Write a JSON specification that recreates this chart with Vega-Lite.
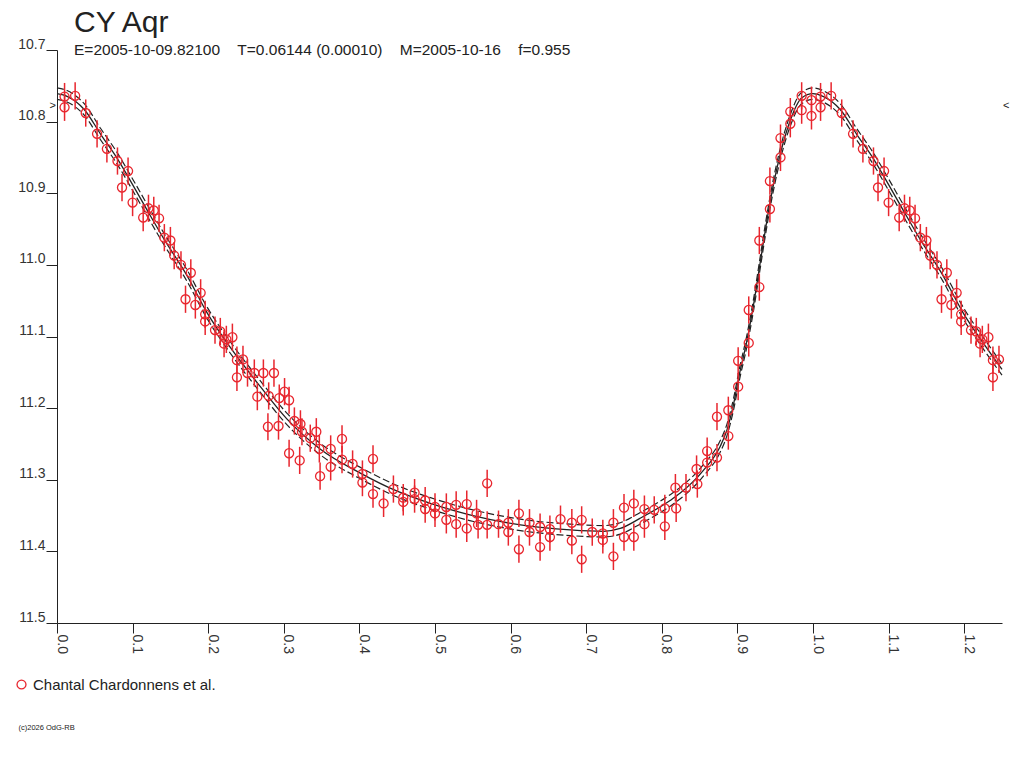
{
  "$schema": "https://vega.github.io/schema/vega-lite/v6.json",
  "width": 945,
  "height": 573,
  "autosize": "none",
  "padding": {"left": 57, "top": 50, "right": 22, "bottom": 145},
  "background": "white",
  "config": {"view": {"stroke": null}, "font": "Liberation Sans"},
  "title": {
    "text": "CY Aqr",
    "subtitle": "E=2005-10-09.82100\u00a0\u00a0\u00a0\u00a0T=0.06144 (0.00010)\u00a0\u00a0\u00a0\u00a0M=2005-10-16\u00a0\u00a0\u00a0\u00a0f=0.955",
    "anchor": "start",
    "frame": "group",
    "orient": "top",
    "dx": 17,
    "offset": -21,
    "font": "Liberation Sans",
    "fontSize": 30,
    "fontWeight": "normal",
    "color": "#222222",
    "subtitleFont": "Liberation Sans",
    "subtitleFontSize": 15.5,
    "subtitleColor": "#222222",
    "subtitlePadding": 5
  },
  "datasets": {
    "curve": [
      {"p":0.000,"c":10.761,"u":10.753,"l":10.769},
      {"p":0.014,"c":10.765,"u":10.757,"l":10.773},
      {"p":0.036,"c":10.783,"u":10.775,"l":10.791},
      {"p":0.058,"c":10.818,"u":10.810,"l":10.826},
      {"p":0.080,"c":10.852,"u":10.844,"l":10.860},
      {"p":0.100,"c":10.888,"u":10.880,"l":10.896},
      {"p":0.120,"c":10.925,"u":10.917,"l":10.933},
      {"p":0.141,"c":10.963,"u":10.955,"l":10.971},
      {"p":0.172,"c":11.015,"u":11.007,"l":11.023},
      {"p":0.198,"c":11.066,"u":11.058,"l":11.074},
      {"p":0.229,"c":11.115,"u":11.107,"l":11.123},
      {"p":0.269,"c":11.170,"u":11.162,"l":11.178},
      {"p":0.304,"c":11.215,"u":11.207,"l":11.223},
      {"p":0.348,"c":11.257,"u":11.249,"l":11.265},
      {"p":0.400,"c":11.290,"u":11.282,"l":11.298},
      {"p":0.450,"c":11.316,"u":11.308,"l":11.324},
      {"p":0.494,"c":11.333,"u":11.325,"l":11.341},
      {"p":0.546,"c":11.349,"u":11.341,"l":11.357},
      {"p":0.613,"c":11.363,"u":11.355,"l":11.371},
      {"p":0.679,"c":11.370,"u":11.362,"l":11.378},
      {"p":0.723,"c":11.372,"u":11.364,"l":11.380},
      {"p":0.745,"c":11.368,"u":11.360,"l":11.376},
      {"p":0.771,"c":11.354,"u":11.346,"l":11.362},
      {"p":0.811,"c":11.329,"u":11.321,"l":11.337},
      {"p":0.824,"c":11.319,"u":11.311,"l":11.327},
      {"p":0.855,"c":11.287,"u":11.279,"l":11.295},
      {"p":0.877,"c":11.254,"u":11.246,"l":11.262},
      {"p":0.886,"c":11.231,"u":11.223,"l":11.239},
      {"p":0.895,"c":11.194,"u":11.186,"l":11.202},
      {"p":0.903,"c":11.151,"u":11.143,"l":11.159},
      {"p":0.912,"c":11.109,"u":11.101,"l":11.117},
      {"p":0.921,"c":11.058,"u":11.050,"l":11.066},
      {"p":0.930,"c":10.998,"u":10.990,"l":11.006},
      {"p":0.937,"c":10.951,"u":10.943,"l":10.959},
      {"p":0.943,"c":10.914,"u":10.906,"l":10.922},
      {"p":0.957,"c":10.844,"u":10.836,"l":10.852},
      {"p":0.970,"c":10.798,"u":10.790,"l":10.806},
      {"p":0.985,"c":10.767,"u":10.759,"l":10.775},
      {"p":1.000,"c":10.761,"u":10.753,"l":10.769},
      {"p":1.014,"c":10.765,"u":10.757,"l":10.773},
      {"p":1.036,"c":10.783,"u":10.775,"l":10.791},
      {"p":1.058,"c":10.818,"u":10.810,"l":10.826},
      {"p":1.080,"c":10.852,"u":10.844,"l":10.860},
      {"p":1.100,"c":10.888,"u":10.880,"l":10.896},
      {"p":1.120,"c":10.925,"u":10.917,"l":10.933},
      {"p":1.141,"c":10.963,"u":10.955,"l":10.971},
      {"p":1.172,"c":11.015,"u":11.007,"l":11.023},
      {"p":1.198,"c":11.066,"u":11.058,"l":11.074},
      {"p":1.229,"c":11.115,"u":11.107,"l":11.123},
      {"p":1.250,"c":11.146,"u":11.138,"l":11.154}
    ],
    "obs": [
      {"p":0.010,"m":10.765,"e":0.019},{"p":0.010,"m":10.780,"e":0.019},{"p":0.024,"m":10.764,"e":0.019},{"p":0.038,"m":10.788,"e":0.019},
      {"p":0.053,"m":10.817,"e":0.019},{"p":0.066,"m":10.838,"e":0.019},{"p":0.080,"m":10.855,"e":0.019},{"p":0.094,"m":10.869,"e":0.019},
      {"p":0.086,"m":10.892,"e":0.019},{"p":0.100,"m":10.913,"e":0.019},{"p":0.114,"m":10.934,"e":0.019},{"p":0.121,"m":10.921,"e":0.019},
      {"p":0.128,"m":10.924,"e":0.019},{"p":0.135,"m":10.935,"e":0.019},{"p":0.142,"m":10.962,"e":0.019},{"p":0.150,"m":10.966,"e":0.019},
      {"p":0.155,"m":10.987,"e":0.019},{"p":0.164,"m":11.000,"e":0.019},{"p":0.177,"m":11.011,"e":0.019},{"p":0.170,"m":11.048,"e":0.019},
      {"p":0.183,"m":11.056,"e":0.019},{"p":0.190,"m":11.039,"e":0.019},{"p":0.196,"m":11.069,"e":0.019},{"p":0.196,"m":11.079,"e":0.019},
      {"p":0.209,"m":11.091,"e":0.019},{"p":0.216,"m":11.093,"e":0.019},{"p":0.224,"m":11.104,"e":0.019},{"p":0.221,"m":11.110,"e":0.019},
      {"p":0.232,"m":11.101,"e":0.019},{"p":0.238,"m":11.133,"e":0.019},{"p":0.246,"m":11.132,"e":0.019},{"p":0.238,"m":11.157,"e":0.019},
      {"p":0.252,"m":11.151,"e":0.019},{"p":0.261,"m":11.151,"e":0.019},{"p":0.273,"m":11.151,"e":0.019},{"p":0.287,"m":11.151,"e":0.019},
      {"p":0.265,"m":11.184,"e":0.019},{"p":0.280,"m":11.183,"e":0.019},{"p":0.294,"m":11.186,"e":0.019},{"p":0.301,"m":11.177,"e":0.019},
      {"p":0.307,"m":11.189,"e":0.019},{"p":0.279,"m":11.226,"e":0.019},{"p":0.293,"m":11.225,"e":0.019},{"p":0.314,"m":11.218,"e":0.019},
      {"p":0.322,"m":11.222,"e":0.019},{"p":0.324,"m":11.233,"e":0.019},{"p":0.335,"m":11.242,"e":0.019},{"p":0.343,"m":11.233,"e":0.019},
      {"p":0.307,"m":11.263,"e":0.019},{"p":0.321,"m":11.273,"e":0.019},{"p":0.347,"m":11.257,"e":0.019},{"p":0.362,"m":11.257,"e":0.019},
      {"p":0.377,"m":11.243,"e":0.019},{"p":0.348,"m":11.295,"e":0.019},{"p":0.362,"m":11.282,"e":0.019},{"p":0.377,"m":11.272,"e":0.019},
      {"p":0.391,"m":11.278,"e":0.019},{"p":0.418,"m":11.271,"e":0.019},{"p":0.404,"m":11.292,"e":0.019},{"p":0.404,"m":11.304,"e":0.019},
      {"p":0.418,"m":11.320,"e":0.019},{"p":0.432,"m":11.333,"e":0.019},{"p":0.445,"m":11.313,"e":0.019},{"p":0.458,"m":11.325,"e":0.019},
      {"p":0.458,"m":11.331,"e":0.019},{"p":0.473,"m":11.318,"e":0.019},{"p":0.473,"m":11.327,"e":0.019},{"p":0.487,"m":11.329,"e":0.019},
      {"p":0.487,"m":11.341,"e":0.019},{"p":0.500,"m":11.338,"e":0.019},{"p":0.500,"m":11.347,"e":0.019},{"p":0.515,"m":11.338,"e":0.019},
      {"p":0.515,"m":11.356,"e":0.019},{"p":0.528,"m":11.335,"e":0.019},{"p":0.528,"m":11.362,"e":0.019},{"p":0.542,"m":11.334,"e":0.019},
      {"p":0.542,"m":11.368,"e":0.019},{"p":0.555,"m":11.347,"e":0.019},{"p":0.557,"m":11.363,"e":0.019},{"p":0.569,"m":11.363,"e":0.019},
      {"p":0.569,"m":11.305,"e":0.019},{"p":0.584,"m":11.362,"e":0.019},{"p":0.597,"m":11.360,"e":0.019},{"p":0.597,"m":11.373,"e":0.019},
      {"p":0.611,"m":11.347,"e":0.019},{"p":0.611,"m":11.397,"e":0.019},{"p":0.625,"m":11.360,"e":0.019},{"p":0.625,"m":11.373,"e":0.019},
      {"p":0.639,"m":11.366,"e":0.019},{"p":0.639,"m":11.394,"e":0.019},{"p":0.652,"m":11.369,"e":0.019},{"p":0.652,"m":11.380,"e":0.019},
      {"p":0.666,"m":11.355,"e":0.019},{"p":0.681,"m":11.360,"e":0.019},{"p":0.681,"m":11.385,"e":0.019},{"p":0.694,"m":11.356,"e":0.019},
      {"p":0.694,"m":11.411,"e":0.019},{"p":0.708,"m":11.373,"e":0.019},{"p":0.722,"m":11.375,"e":0.019},{"p":0.722,"m":11.384,"e":0.019},
      {"p":0.736,"m":11.360,"e":0.019},{"p":0.736,"m":11.407,"e":0.019},{"p":0.750,"m":11.339,"e":0.019},{"p":0.750,"m":11.380,"e":0.019},
      {"p":0.763,"m":11.333,"e":0.019},{"p":0.763,"m":11.380,"e":0.019},{"p":0.777,"m":11.341,"e":0.019},{"p":0.777,"m":11.362,"e":0.019},
      {"p":0.790,"m":11.342,"e":0.019},{"p":0.804,"m":11.340,"e":0.019},{"p":0.804,"m":11.365,"e":0.019},{"p":0.819,"m":11.340,"e":0.019},
      {"p":0.818,"m":11.311,"e":0.019},{"p":0.832,"m":11.311,"e":0.019},{"p":0.847,"m":11.306,"e":0.019},{"p":0.846,"m":11.285,"e":0.019},
      {"p":0.860,"m":11.276,"e":0.019},{"p":0.860,"m":11.260,"e":0.019},{"p":0.873,"m":11.269,"e":0.019},{"p":0.873,"m":11.212,"e":0.019},
      {"p":0.888,"m":11.239,"e":0.019},{"p":0.888,"m":11.203,"e":0.019},{"p":0.901,"m":11.170,"e":0.019},{"p":0.901,"m":11.134,"e":0.019},
      {"p":0.915,"m":11.109,"e":0.019},{"p":0.915,"m":11.063,"e":0.019},{"p":0.929,"m":11.031,"e":0.019},{"p":0.929,"m":10.966,"e":0.019},
      {"p":0.943,"m":10.922,"e":0.019},{"p":0.943,"m":10.883,"e":0.019},{"p":0.957,"m":10.850,"e":0.019},{"p":0.957,"m":10.823,"e":0.019},
      {"p":0.970,"m":10.803,"e":0.019},{"p":0.970,"m":10.786,"e":0.019},{"p":0.985,"m":10.764,"e":0.019},{"p":0.985,"m":10.784,"e":0.019},
      {"p":0.998,"m":10.770,"e":0.019},{"p":0.998,"m":10.792,"e":0.019},
      {"p":1.010,"m":10.765,"e":0.019},{"p":1.010,"m":10.780,"e":0.019},{"p":1.024,"m":10.764,"e":0.019},{"p":1.038,"m":10.788,"e":0.019},
      {"p":1.053,"m":10.817,"e":0.019},{"p":1.066,"m":10.838,"e":0.019},{"p":1.080,"m":10.855,"e":0.019},{"p":1.094,"m":10.869,"e":0.019},
      {"p":1.086,"m":10.892,"e":0.019},{"p":1.100,"m":10.913,"e":0.019},{"p":1.114,"m":10.934,"e":0.019},{"p":1.121,"m":10.921,"e":0.019},
      {"p":1.128,"m":10.924,"e":0.019},{"p":1.135,"m":10.935,"e":0.019},{"p":1.142,"m":10.962,"e":0.019},{"p":1.150,"m":10.966,"e":0.019},
      {"p":1.155,"m":10.987,"e":0.019},{"p":1.164,"m":11.000,"e":0.019},{"p":1.177,"m":11.011,"e":0.019},{"p":1.170,"m":11.048,"e":0.019},
      {"p":1.183,"m":11.056,"e":0.019},{"p":1.190,"m":11.039,"e":0.019},{"p":1.196,"m":11.069,"e":0.019},{"p":1.196,"m":11.079,"e":0.019},
      {"p":1.209,"m":11.091,"e":0.019},{"p":1.216,"m":11.093,"e":0.019},{"p":1.224,"m":11.104,"e":0.019},{"p":1.221,"m":11.110,"e":0.019},
      {"p":1.232,"m":11.101,"e":0.019},{"p":1.238,"m":11.133,"e":0.019},{"p":1.246,"m":11.132,"e":0.019},{"p":1.238,"m":11.157,"e":0.019}
    ]
  },
  "layer": [
    {
      "data": {"name": "curve"},
      "mark": {"type": "line", "interpolate": "monotone", "color": "#222222", "strokeWidth": 1.3},
      "encoding": {
        "x": {"field": "p", "type": "quantitative",
          "scale": {"domain": [0, 1.25], "nice": false, "zero": false},
          "axis": {
            "orient": "bottom",
            "values": [0,0.05,0.1,0.15,0.2,0.25,0.3,0.35,0.4,0.45,0.5,0.55,0.6,0.65,0.7,0.75,0.8,0.85,0.9,0.95,1.0,1.05,1.1,1.15,1.2,1.25],
            "labelExpr": "round(datum.value*20)%2==0 ? format(datum.value,'.1f') : ''",
            "labelAngle": 90, "labelAlign": "left", "labelBaseline": "alphabetic",
            "labelPadding": 1, "labelFontSize": 14, "labelColor": "#333333", "labelFont": "Liberation Sans",
            "labelOverlap": false, "labelFlush": false,
            "tickSize": 10, "tickColor": "#222222", "tickWidth": 1,
            "domainColor": "#222222", "domainWidth": 1, "grid": false,
            "title": "(c)2026 OdG-RB", "titleFontSize": 7.5, "titleFontWeight": "normal", "titleColor": "#222222",
            "titleX": -39, "titleY": 104, "titleAlign": "left", "titleAnchor": "start", "titleBaseline": "middle"
          }
        },
        "y": {"field": "c", "type": "quantitative",
          "scale": {"domain": [10.7, 11.5], "reverse": true, "nice": false, "zero": false},
          "axis": {
            "orient": "left",
            "values": [10.7,10.8,10.9,11.0,11.1,11.2,11.3,11.4,11.5],
            "format": ".1f",
            "labelBaseline": "alphabetic", "labelOffset": -2, "labelPadding": 1,
            "labelFontSize": 14, "labelColor": "#333333", "labelFont": "Liberation Sans", "labelFlush": false,
            "tickSize": 11, "tickColor": "#222222", "tickWidth": 1,
            "domainColor": "#222222", "domainWidth": 1, "grid": false, "title": null
          }
        }
      }
    },
    {
      "data": {"name": "curve"},
      "mark": {"type": "line", "interpolate": "monotone", "color": "#222222", "strokeWidth": 1.2, "strokeDash": [7, 3]},
      "encoding": {
        "x": {"field": "p", "type": "quantitative"},
        "y": {"field": "u", "type": "quantitative"}
      }
    },
    {
      "data": {"name": "curve"},
      "mark": {"type": "line", "interpolate": "monotone", "color": "#222222", "strokeWidth": 1.2, "strokeDash": [7, 3]},
      "encoding": {
        "x": {"field": "p", "type": "quantitative"},
        "y": {"field": "l", "type": "quantitative"}
      }
    },
    {
      "data": {"name": "obs"},
      "mark": {"type": "errorbar", "ticks": false, "color": "#e8262e", "thickness": 1.5},
      "encoding": {
        "x": {"field": "p", "type": "quantitative"},
        "y": {"field": "m", "type": "quantitative"},
        "yError": {"field": "e"}
      }
    },
    {
      "data": {"name": "obs"},
      "mark": {"type": "point", "shape": "circle", "filled": false, "size": 82, "strokeWidth": 1.3, "opacity": 1},
      "encoding": {
        "x": {"field": "p", "type": "quantitative"},
        "y": {"field": "m", "type": "quantitative"},
        "color": {"datum": "Chantal Chardonnens et al.",
          "scale": {"range": ["#e8262e"]},
          "legend": {"orient": "none", "legendX": -43, "legendY": 627, "title": null,
            "symbolType": "circle", "symbolSize": 80, "symbolStrokeWidth": 1.3,
            "labelFontSize": 15, "labelColor": "#222222", "labelFont": "Liberation Sans",
            "labelLimit": 0, "labelOffset": 4, "padding": 0}
        }
      }
    },
    {
      "data": {"values": [{"p": 0, "m": 10.7775, "t": ">"}]},
      "mark": {"type": "text", "align": "right", "baseline": "middle", "dx": -1, "fontSize": 11, "color": "#222222"},
      "encoding": {
        "x": {"field": "p", "type": "quantitative"},
        "y": {"field": "m", "type": "quantitative"},
        "text": {"field": "t"}
      }
    },
    {
      "data": {"values": [{"p": 1.25, "m": 10.7775, "t": "<"}]},
      "mark": {"type": "text", "align": "left", "baseline": "middle", "dx": 1, "fontSize": 11, "color": "#222222"},
      "encoding": {
        "x": {"field": "p", "type": "quantitative"},
        "y": {"field": "m", "type": "quantitative"},
        "text": {"field": "t"}
      }
    }
  ]
}
